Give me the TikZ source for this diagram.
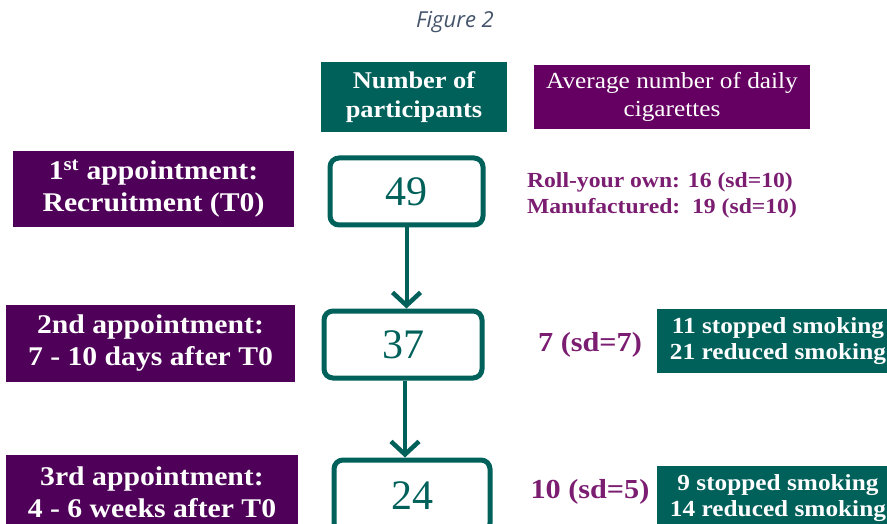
\documentclass[tikz,border=0pt]{standalone}
\usepackage{fontspec}
\setmainfont{Liberation Serif}[FakeStretch=1.1]
\newfontfamily\numfont{Liberation Serif}
\newfontfamily\capfont{Open Sans}
\usetikzlibrary{arrows.meta, positioning}
\definecolor{tealbox}{HTML}{00605A}
\definecolor{plumbox}{HTML}{4F0058}
\definecolor{plumhead}{HTML}{650062}
\definecolor{plumtext}{HTML}{7B1D71}
\definecolor{captext}{HTML}{44546A}

\begin{document}
\begin{tikzpicture}[x=1pt, y=-1pt,
						stagebox/.style = {rectangle, fill=plumbox, text=white, align=center,
										font=\fontsize{27}{32}\selectfont\bfseries, inner sep=0pt},
						headbox/.style = {rectangle, text=white, align=center, inner sep=0pt},
						countbox/.style = {rectangle, draw=tealbox, line width=5pt, rounded corners=9pt,
										text=tealbox, font=\numfont\fontsize{42}{44}\selectfont, inner sep=0pt},
						resbox/.style = {rectangle, fill=tealbox, text=white, align=center, inner sep=0pt,
										font=\fontsize{23}{26}\selectfont\bfseries},
						avgtext/.style = {text=plumtext, font=\bfseries},
						line/.style = {draw=tealbox, line width=4pt, -{Straight Barb[length=13pt, width=28pt, line width=4.5pt]}}
						]
	\useasboundingbox (0,0) rectangle (887,524);
	\clip (0,0) rectangle (887,524);

	% --- Encabezado ---
	\node[text=captext, font=\capfont\itshape\fontsize{22}{24}\selectfont] (caption) at (455,22) {Figure 2};
	\node[headbox, fill=tealbox, minimum width=186pt, minimum height=70pt,
		font=\fontsize{24}{29}\selectfont\bfseries] (head_count) at (414,97) {Number of\\participants};
	\node[headbox, fill=plumhead, minimum width=276pt, minimum height=64pt,
		font=\fontsize{23}{28}\selectfont] (head_avg) at (672,97) {Average number of daily\\cigarettes};

	% --- Citas ---
	\node[stagebox, minimum width=281pt, minimum height=76pt] (app1) at (153.5,189) {1\textsuperscript{st} appointment:\\Recruitment (T0)};
	\node[stagebox, minimum width=289pt, minimum height=77pt] (app2) at (150.5,343.5) {2nd appointment:\\7 - 10 days after T0};
	\node[stagebox, minimum width=292pt, minimum height=74pt] (app3) at (152,492) {3rd appointment:\\4 - 6 weeks after T0};

	% --- Participantes ---
	\node[countbox, minimum width=153pt, minimum height=67pt] (count1) at (406.5,191.5) {49};
	\node[countbox, minimum width=158pt, minimum height=67pt] (count2) at (403,344.5) {37};
	\node[countbox, minimum width=156pt, minimum height=72pt] (count3) at (412,496) {24};

	% --- Cigarrillos ---
	\node[avgtext, align=left, font=\fontsize{21.5}{26}\selectfont\bfseries] (avg1) at (662,195) {Roll-your own: 16 (sd=10)\\Manufactured:\ \ 19 (sd=10)};
	\node[avgtext, font=\fontsize{27.5}{30}\selectfont\bfseries] (avg2) at (590,345) {7 (sd=7)};
	\node[avgtext, font=\fontsize{27.5}{30}\selectfont\bfseries] (avg3) at (590,492) {10 (sd=5)};
	\node[resbox, minimum width=242pt, minimum height=64pt] (res2) at (778,341) {11 stopped smoking\\21 reduced smoking};
	\node[resbox, minimum width=242pt, minimum height=64pt] (res3) at (778,498) {9 stopped smoking\\14 reduced smoking};

	% --- Flechas ---
	\draw[line] (count1.south) -- (count1.south |- count2.north);
	\draw[line] ([xshift=2pt]count2.south) -- ([xshift=2pt]count2.south |- count3.north);
\end{tikzpicture}
\end{document}
